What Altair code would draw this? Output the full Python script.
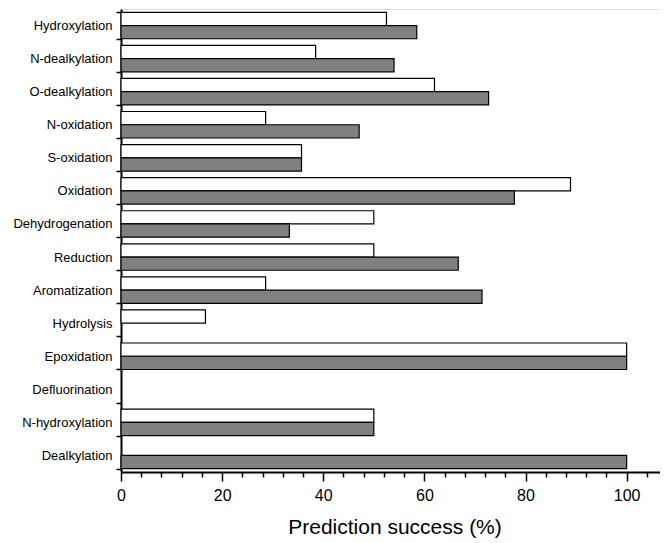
import altair as alt
import pandas as pd

categories = ["Hydroxylation", "N-dealkylation", "O-dealkylation", "N-oxidation",
              "S-oxidation", "Oxidation", "Dehydrogenation", "Reduction",
              "Aromatization", "Hydrolysis", "Epoxidation", "Defluorination",
              "N-hydroxylation", "Dealkylation"]
series_names = ["Series 1", "Series 2"]
series1_values = [52.5, 38.5, 62.0, 28.6, 35.7, 88.9, 50.0, 50.0, 28.6, 16.7, 100.0, 0.0, 50.0, 0.0]
series2_values = [58.5, 54.0, 72.7, 47.1, 35.7, 77.8, 33.3, 66.7, 71.4, 0.0, 100.0, 0.0, 50.0, 100.0]
x_tick_values = list(range(0, 105, 4))

rows = []
for c, a, b in zip(categories, series1_values, series2_values):
    rows.append({"category": c, "series": series_names[0], "value": a})
    rows.append({"category": c, "series": series_names[1], "value": b})
df = pd.DataFrame(rows)

FONT = "Liberation Sans"

chart = alt.Chart(df).transform_filter("datum.value > 0").mark_bar(stroke="black", strokeWidth=1.2).encode(
    y=alt.Y("category:N", sort=categories,
            scale=alt.Scale(domain=categories, paddingInner=0.2, paddingOuter=0.1),
            axis=alt.Axis(title=None, tickBand="extent", tickSize=5, tickWidth=1.5,
                          tickColor="black", domainColor="black", domainWidth=2,
                          labelFont=FONT, labelFontSize=13, labelColor="black",
                          labelAlign="right", labelBaseline="middle",
                          labelPadding=4)),
    yOffset=alt.YOffset("series:N", sort=series_names,
                        scale=alt.Scale(domain=series_names)),
    x=alt.X("value:Q", scale=alt.Scale(domain=[0, 106.6], nice=False),
            axis=alt.Axis(title="Prediction success (%)", values=x_tick_values,
                          tickSize=alt.condition("datum.value % 20 === 0", alt.value(9), alt.value(5)),
                          labelExpr="datum.value % 20 === 0 ? datum.label : ''",
                          tickWidth=1.5, tickColor="black", domainColor="black", domainWidth=2,
                          labelFont=FONT, labelFontSize=16, labelColor="black",
                          labelPadding=6, labelFlush=False,
                          titleFont=FONT, titleFontSize=21, titleFontWeight="normal",
                          titleColor="black", titlePadding=13, titleX=273.5, grid=False)),
    fill=alt.Fill("series:N", sort=series_names,
                  scale=alt.Scale(domain=series_names, range=["white", "#808080"]),
                  legend=None),
).properties(
    width=539, height=463,
    autosize=alt.AutoSizeParams(type="none"),
    padding={"left": 113, "top": 1, "right": 0, "bottom": 70},
).configure_view(stroke=None).configure(background="white")

chart.save("out.html", embed_options={"renderer": "svg", "actions": False})
